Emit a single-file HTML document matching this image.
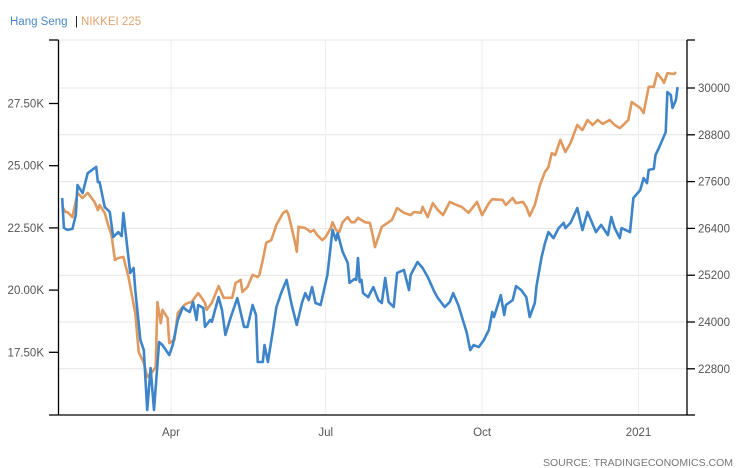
<!DOCTYPE html>
<html><head><meta charset="utf-8"><style>
html,body{margin:0;padding:0;background:#fff;}
svg{display:block;font-family:"Liberation Sans",Arial,sans-serif;}
</style></head><body>
<svg id="chart" width="746" height="468" viewBox="0 0 746 468">
<g id="legend">
<text x="10" y="25" font-size="11.5" fill="#4a86c5">Hang Seng</text>
<text x="75" y="25" font-size="11.5" fill="#111">|</text>
<text x="81" y="25" font-size="11.5" fill="#e0a36e">NIKKEI 225</text>
</g>
<g id="grid"></g>
<g id="axes"></g>
<g id="series"></g>
<text x="733" y="466" font-size="10.5" fill="#777" text-anchor="end">SOURCE: TRADINGECONOMICS.COM</text>
</svg>
<script>
// days since 2020-01-01
const hsDays=[27,28,30,33,35,36,39,42,47,48,49,52,55,57,60,62,63,65,67,69,70,73,75,77,79,81,84,86,88,90,92,95,98,100,102,104,106,107,110,111,114,115,119,121,123,126,130,134,136,139,141,142,145,146,148,151,153,156,159,162,165,168,170,172,174,176,179,183,186,188,189,192,195,196,199,200,201,202,203,204,207,210,213,215,217,219,222,224,228,231,232,236,239,242,246,248,252,255,257,260,265,267,269,272,275,278,280,281,285,287,288,292,294,297,300,302,305,306,309,311,313,316,319,322,323,326,330,333,336,341,344,348,350,352,355,356,361,363,367,369,371,372,375,376,378,382,383,385,386,388,389];
const hsValues=[23700,22500,22420,22460,23020,24220,23900,24700,24950,24340,24340,23340,23140,22130,22330,22170,23100,21890,20690,20890,20000,17990,17590,15180,16870,15180,17910,17790,17590,17390,17790,18800,19320,19200,19120,19520,18800,19400,19280,18520,18800,18720,19720,19200,18200,18880,19680,18520,18520,19400,19000,17110,17110,17790,17110,18400,19320,19920,20410,19400,18600,19480,19880,19600,20120,19480,19400,20610,22420,22010,22290,21530,21090,20290,20450,20410,21290,20330,20410,19880,19720,20120,19600,19480,20490,19520,19320,20690,20810,20000,20610,21130,20890,20530,19920,19680,19320,19520,19880,19400,18280,17590,17790,17710,17990,18400,19120,18920,19800,19000,19400,19600,20160,20000,19720,18920,19480,20160,21330,21890,22330,22090,22490,22700,22490,22700,23300,22410,23140,22330,22620,22210,22940,22490,22090,22490,22330,23700,24020,24500,24300,24830,24870,25430,25710,26350,27960,27840,27320,27640,28160];
const nkDays=[27,29,30,33,36,39,42,46,48,49,52,54,56,58,60,63,66,68,70,72,75,77,80,82,83,85,86,89,90,93,95,99,101,103,107,109,111,112,115,119,122,127,129,132,133,136,139,142,143,145,147,150,153,157,159,160,162,164,165,166,170,173,175,177,180,182,185,186,188,190,192,195,197,199,201,205,208,210,211,215,219,221,224,228,232,234,238,239,242,245,248,251,255,259,262,266,271,274,278,280,286,288,292,294,298,300,302,305,308,311,313,315,317,320,323,326,330,333,336,339,342,345,349,352,355,357,360,362,367,369,372,375,377,380,381,383,387,388];
const nkValues=[26950,26820,26820,26690,27310,27180,27310,27080,26870,27000,26800,26490,26230,25590,25640,25670,25150,24690,24230,23230,22950,22590,22720,22850,24510,23970,24310,24100,23460,23540,24230,24440,24490,24510,24740,24620,24490,24310,24490,24920,24620,24620,25000,25080,24770,24900,25210,25150,25210,25590,26030,26100,26490,26800,26850,26770,26410,26030,25800,26440,26410,26310,26360,26230,26100,26180,26410,26560,26360,26310,26560,26690,26560,26560,26670,26560,26540,26150,25920,26440,26560,26620,26920,26800,26740,26820,26800,26950,26690,27050,26870,26740,27080,27000,26950,26800,27080,26740,27050,27150,27130,27000,27180,27050,27080,26950,26720,27000,27510,27850,27970,28330,28280,28670,28360,28590,29050,28920,29180,29050,29180,29080,29180,29050,28970,29050,29180,29640,29490,29360,30030,30030,30380,30210,30130,30380,30360,30410];
const leftTicks=[17500,20000,22500,25000,27500];
const leftTickLabels=["17.50K","20.00K","22.50K","25.00K","27.50K"];
const rightTicks=[22800,24000,25200,26400,27600,28800,30000];
const rightTickLabels=["22800","24000","25200","26400","27600","28800","30000"];
const monthDays=[91,182,274,366];
const monthLabels=["Apr","Jul","Oct","2021"];

const NS="http://www.w3.org/2000/svg";
const L=58.5,R=687,T=40,B=415;
const xDay=d=>16.3+1.7*d;
const yLeft=v=>414.5-(v-15000)/2500*62.2;
const yRight=v=>88-(v-30000)*46.8/1200;
function mk(tag,attrs,parent){const e=document.createElementNS(NS,tag);for(const k in attrs)e.setAttribute(k,attrs[k]);parent.appendChild(e);return e;}
const grid=document.getElementById('grid'),axes=document.getElementById('axes'),series=document.getElementById('series');
// horizontal grid from right axis ticks + top
[...rightTicks.map(yRight),T].forEach(y=>{
  const g=mk('line',{x1:L,x2:R,y1:y,y2:y,stroke:'#e4e4e4','stroke-width':1},grid);
  
  
});
monthDays.forEach((d,i)=>{
  const x=xDay(d);
  const g=mk('line',{x1:x,x2:x,y1:T,y2:B,stroke:'#ececec','stroke-width':1},grid);
  
  
  const t=mk('text',{x:x,y:436,'font-size':11.5,fill:'#555','text-anchor':'middle'},axes);
  t.textContent=monthLabels[i];
  
  
});
// axis lines
const la=mk('line',{x1:L,x2:L,y1:T,y2:B,stroke:'#000','stroke-width':1.3},axes);


const ra=mk('line',{x1:R,x2:R,y1:T,y2:B,stroke:'#000','stroke-width':1.3},axes);


const ba=mk('line',{x1:49,x2:R,y1:B,y2:B,stroke:'#000','stroke-width':1.3},axes);


mk('line',{x1:49,x2:L,y1:T,y2:T,stroke:'#000','stroke-width':1.3},axes);
mk('line',{x1:R,x2:695,y1:T,y2:T,stroke:'#000','stroke-width':1.3},axes);
mk('line',{x1:R,x2:695,y1:B,y2:B,stroke:'#000','stroke-width':1.3},axes);
leftTicks.forEach((v,i)=>{
  const y=yLeft(v);
  mk('line',{x1:49,x2:L,y1:y,y2:y,stroke:'#000','stroke-width':1.3},axes);
  const t=mk('text',{x:44,y:y+4,'font-size':11.5,fill:'#555','text-anchor':'end'},axes);
  t.textContent=leftTickLabels[i];
  
  
});
rightTicks.forEach((v,i)=>{
  const y=yRight(v);
  mk('line',{x1:R,x2:695,y1:y,y2:y,stroke:'#000','stroke-width':1.3},axes);
  const t=mk('text',{x:698,y:y+4,'font-size':11.5,fill:'#555'},axes);
  t.textContent=rightTickLabels[i];
  
  
});
function line(days,vals,yf,color){
  return days.map((d,i)=>(i?'L':'M')+xDay(d).toFixed(1)+','+yf(vals[i]).toFixed(1)).join(' ');
}
const nk=mk('path',{d:line(nkDays,nkValues,yRight),fill:'none',stroke:'#e0995e','stroke-width':2.6,'stroke-linejoin':'round'},series);


const hs=mk('path',{d:line(hsDays,hsValues,yLeft),fill:'none',stroke:'#3d85c8','stroke-width':2.6,'stroke-linejoin':'round'},series);


</script>
</body></html>
